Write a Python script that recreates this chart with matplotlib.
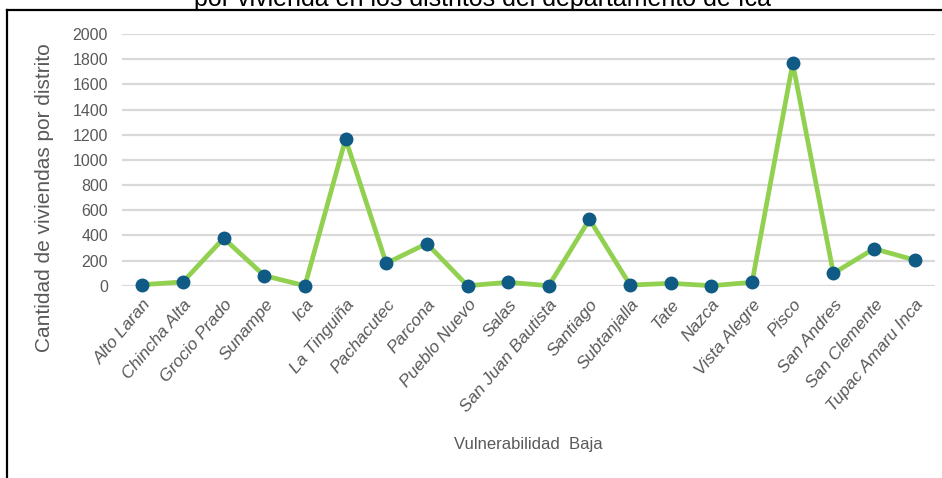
import matplotlib
matplotlib.use('Agg')
import matplotlib.pyplot as plt
from matplotlib.lines import Line2D

plt.rcParams['font.family'] = ['Liberation Sans', 'DejaVu Sans']

distritos = ['Alto Laran', 'Chincha Alta', 'Grocio Prado', 'Sunampe', 'Ica',
             'La Tinguiña', 'Pachacutec', 'Parcona', 'Pueblo Nuevo', 'Salas',
             'San Juan Bautista', 'Santiago', 'Subtanjalla', 'Tate', 'Nazca',
             'Vista Alegre', 'Pisco', 'San Andres', 'San Clemente', 'Tupac Amaru Inca']
viviendas = [8, 30, 377, 80, 0, 1166, 178, 335, 0, 27,
             0, 527, 5, 19, 0, 27, 1768, 98, 294, 204]
y_ticks = list(range(0, 2001, 200))

GRIS = '#595959'

fig = plt.figure(figsize=(9.42, 4.78), dpi=100)
W, H = 942, 478
ax = fig.add_axes([122 / W, 1 - 285.7 / H, (935 - 122) / W, (285.7 - 34) / H])

x = list(range(len(distritos)))
ax.plot(x, viviendas, color='#92D050', linewidth=3.4, solid_joinstyle='round',
        marker='o', markersize=9, markerfacecolor='#0F5B85',
        markeredgecolor='#0F5B85', clip_on=False, zorder=3)

ax.set_xlim(-0.5, len(distritos) - 0.5)
ax.set_ylim(0, 2000)
ax.set_yticks(y_ticks)
ax.set_yticklabels([str(v) for v in y_ticks], fontsize=11.5, color=GRIS)
ax.set_xticks(x)
ax.set_xticklabels(distritos, rotation=50, ha='right', rotation_mode='anchor',
                   fontsize=12.5, color=GRIS, style='italic')
ax.tick_params(axis='both', length=0)
ax.tick_params(axis='y', pad=10)
ax.tick_params(axis='x', pad=8)
ax.grid(axis='y', color='#D9D9D9', linewidth=1.6)
ax.set_axisbelow(True)
for s in ax.spines.values():
    s.set_visible(False)

fig.text(45 / W, 1 - 198 / H, 'Cantidad de viviendas por distrito', rotation=90,
         ha='center', va='center', fontsize=15, color=GRIS)
fig.text(528 / W, 1 - 445 / H, 'Vulnerabilidad  Baja', ha='center', va='center',
         fontsize=12, color=GRIS)

# título cortado por el borde superior
fig.text(482 / W, 1 - 6 / H, 'por vivienda en los distritos del departamento de Ica',
         ha='center', va='baseline', fontsize=18, color='black')

# marco
fig.add_artist(Line2D([7 / W, 1.0], [1 - 10 / H, 1 - 10 / H], color='black',
                      linewidth=1.6, transform=fig.transFigure))
fig.add_artist(Line2D([7 / W, 7 / W], [0.0, 1 - 10 / H], color='black',
                      linewidth=1.6, transform=fig.transFigure))

fig.savefig('out.png', dpi=100, facecolor='white')
